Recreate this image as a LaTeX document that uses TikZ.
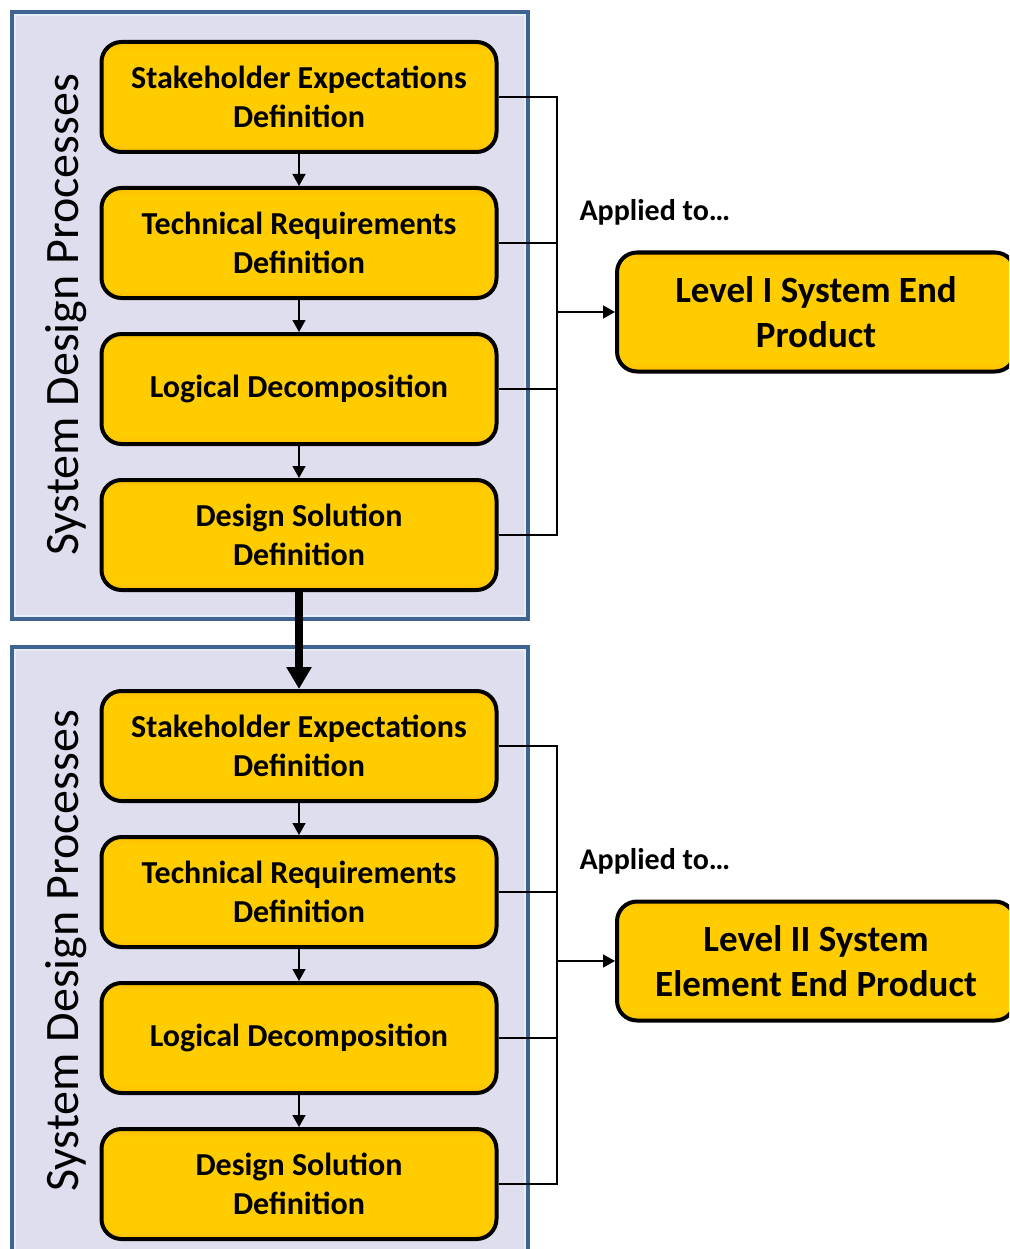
\documentclass[tikz,border=0pt]{standalone}
\usepackage{fontspec}
\setmainfont{Carlito}
\usetikzlibrary{arrows.meta}
\definecolor{panelfill}{HTML}{DEDEEE}
\definecolor{panelline}{HTML}{3F6491}
\definecolor{panelinner}{HTML}{E6EEF8}
\definecolor{boxmid}{HTML}{FFCC00}
\definecolor{boxedge}{HTML}{FFC000}
\pgfdeclareverticalshading{boxshade}{100bp}{color(0bp)=(boxedge); color(25bp)=(boxedge); color(29bp)=(boxmid); color(71bp)=(boxmid); color(75bp)=(boxedge); color(100bp)=(boxedge)}
\begin{document}
\begin{tikzpicture}[x=1pt,y=-1pt,
  panel/.style={draw=panelline, fill=panelfill, line width=4pt},
  procbox/.style={draw=black, line width=4pt, rounded corners=20pt,
    shading=boxshade,
    minimum width=395pt, minimum height=110pt, align=center,
    font=\fontsize{32}{39}\selectfont\bfseries, inner sep=0pt},
  endbox/.style={procbox, minimum width=398pt, minimum height=119pt,
    font=\fontsize{37}{45}\selectfont\bfseries},
  sidelabel/.style={rotate=90, font=\fontsize{48}{54}\selectfont},
  applied/.style={font=\fontsize{30}{34}\selectfont\bfseries, anchor=west},
  stepline/.style={line width=1.5pt, -{Triangle[length=12pt,width=13pt]}},
  thinline/.style={line width=1.5pt},
  bigarrow/.style={line width=8pt, -{Triangle[length=22pt,width=24pt]}}
]
\useasboundingbox (0,0) rectangle (1009,1249);
\clip (0,0) rectangle (1009,1249);
% panels
\draw[panel] (12,12) rectangle (528,619);
\draw[panelinner, line width=1.2pt] (15,15) rectangle (525,616);
\draw[panel] (12,647) rectangle (528,1270);
\draw[panelinner, line width=1.2pt] (15,650) rectangle (525,1270);
\node[sidelabel] (l1) at (66,315) {System Design Processes};
\node[sidelabel] (l2) at (66,951) {System Design Processes};
% top boxes
\node[procbox] (a1) at (299,97) {Stakeholder Expectations\\Definition};
\node[procbox] (a2) at (299,243) {Technical Requirements\\Definition};
\node[procbox] (a3) at (299,389) {Logical Decomposition};
\node[procbox] (a4) at (299,535) {Design Solution\\Definition};
% bottom boxes
\node[procbox] (b1) at (299,746) {Stakeholder Expectations\\Definition};
\node[procbox] (b2) at (299,892) {Technical Requirements\\Definition};
\node[procbox] (b3) at (299,1038) {Logical Decomposition};
\node[procbox] (b4) at (299,1184) {Design Solution\\Definition};
% end products
\node[endbox] (r1) at (816,312) {Level I System End\\Product};
\node[endbox] (r2) at (816,961) {Level II System\\Element End Product};
\node[applied] (t1) at (576,212) {Applied to…};
\node[applied] (t2) at (576,861) {Applied to…};
% step arrows
\draw[stepline] (a1.south) -- (a2.north);
\draw[stepline] (a2.south) -- (a3.north);
\draw[stepline] (a3.south) -- (a4.north);
\draw[stepline] (b1.south) -- (b2.north);
\draw[stepline] (b2.south) -- (b3.north);
\draw[stepline] (b3.south) -- (b4.north);
\draw[bigarrow] (a4.south) -- (b1.north);
% connectors
\coordinate (jx) at (557,0);
\draw[thinline] (a1.east) -- (a1.east -| jx) -- (a4.east -| jx) -- (a4.east);
\draw[thinline] (a2.east) -- (a2.east -| jx);
\draw[thinline] (a3.east) -- (a3.east -| jx);
\draw[stepline] (r1.west -| jx) -- (r1.west);
\draw[thinline] (b1.east) -- (b1.east -| jx) -- (b4.east -| jx) -- (b4.east);
\draw[thinline] (b2.east) -- (b2.east -| jx);
\draw[thinline] (b3.east) -- (b3.east -| jx);
\draw[stepline] (r2.west -| jx) -- (r2.west);
\end{tikzpicture}
\end{document}
